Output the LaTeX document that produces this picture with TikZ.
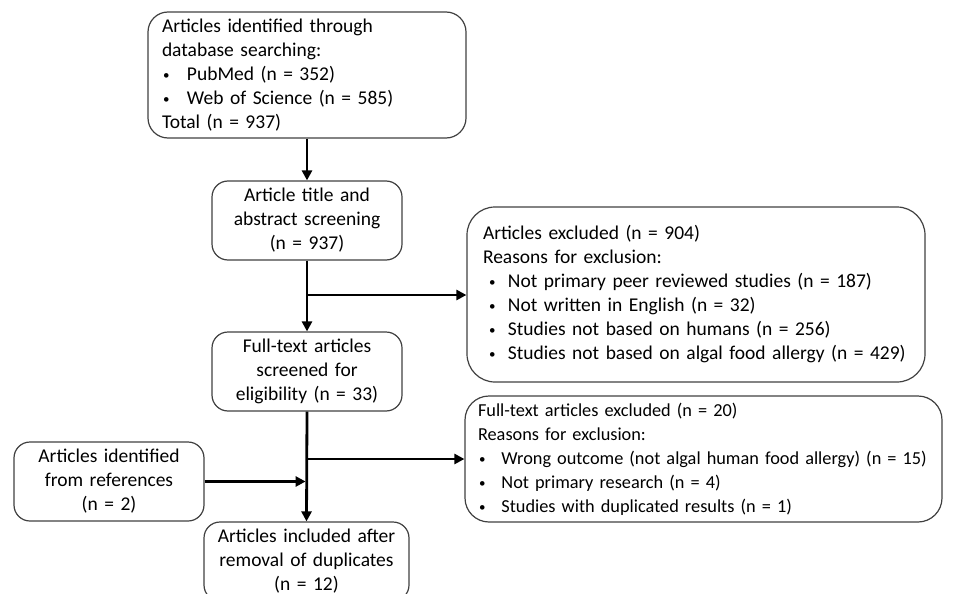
\documentclass[tikz,border=0pt]{standalone}
\usepackage{fontspec}
\setmainfont{Carlito}
\usetikzlibrary{arrows.meta}
\newcommand\bul[2][1pt]{\mbox{\makebox[1.28em][l]{\hspace{#1}\raisebox{1pt}{\fontsize{13}{13}\selectfont\textbullet}}#2}}
\newcommand\fsz{\fontsize{19.5}{24}\selectfont\spaceskip=0.17em plus 0.05em\relax}
\newcommand\fszs{\fontsize{18.3}{24}\selectfont\spaceskip=0.17em plus 0.05em\relax}
\begin{document}
\begin{tikzpicture}[x=1pt,y=-1pt,
  box/.style={draw=black!75, line width=1.2pt, inner ysep=0pt, font=\fsz},
  cbox/.style={box, rounded corners=16pt, align=center, inner xsep=0pt},
  lbox/.style={box, align=left},
  arr/.style={line width=2.8pt, -{Triangle[length=10pt,width=10pt]}}]
\useasboundingbox (0,0) rectangle (972,594);
\node[lbox, rounded corners=20pt, minimum width=318pt, minimum height=126pt, text width=290pt, inner xsep=14pt] (b1) at (307,75)
 {Articles identified through\\database searching:\\\bul{PubMed (n = 352)}\\\bul{Web of Science (n = 585)}\\Total (n = 937)};
\node[cbox, minimum width=190pt, minimum height=79pt, text width=190pt] (b2) at (307,220.5)
 {Article title and\\abstract screening\\(n = 937)};
\node[lbox, rounded corners=28pt, minimum width=458pt, minimum height=175pt, text width=426pt, inner xsep=16pt] (b4) at (696,294.5)
 {Articles excluded (n = 904)\\Reasons for exclusion:\\\bul[6pt]{Not primary peer reviewed studies (n = 187)}\\\bul[6pt]{Not written in English (n = 32)}\\\bul[6pt]{Studies not based on humans (n = 256)}\\\bul[6pt]{Studies not based on algal food allergy (n = 429)}};
\node[cbox, minimum width=190pt, minimum height=79pt, text width=190pt] (b3) at (307,371.5)
 {Full-text articles\\screened for\\eligibility (n = 33)};
\node[lbox, font=\fszs, rounded corners=24pt, minimum width=477pt, minimum height=126pt, text width=451pt, inner xsep=13pt] (b5) at (703.5,459)
 {Full-text articles excluded (n = 20)\\Reasons for exclusion:\\\bul{Wrong outcome (not algal human food allergy) (n = 15)}\\\bul{Not primary research (n = 4)}\\\bul{Studies with duplicated results (n = 1)}};
\node[cbox, minimum width=190pt, minimum height=79pt, text width=190pt] (b7) at (109,481.5)
 {Articles identified\\from references\\(n = 2)};
\node[cbox, minimum width=205pt, minimum height=79pt, text width=205pt] (b6) at (306.5,561.5)
 {Articles included after\\removal of duplicates\\(n = 12)};
\coordinate (j1) at (307,295);
\coordinate (j2) at (307,459);
\draw[arr] (b1.south) -- (b2.north);
\draw[arr] (b2.south) -- (b3.north);
\draw[arr] (j1) -- (j1 -| b4.west);
\draw[arr] (b3.south) -- (b6.north);
\draw[arr] (j2) -- (j2 -| b5.west);
\draw[arr, shorten >=1.4pt] (b7.east) -- (b7.east -| b3.south);
\end{tikzpicture}
\end{document}
